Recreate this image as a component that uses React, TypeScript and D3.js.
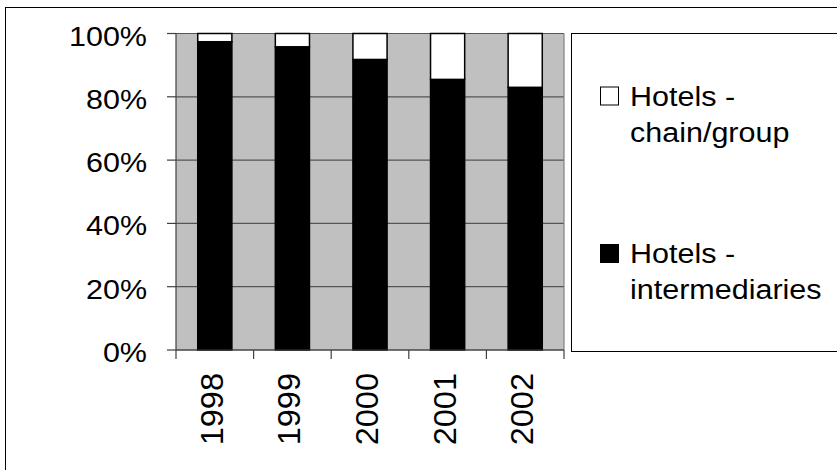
import React from "react";
import * as d3 from "d3";

const years = ["1998", "1999", "2000", "2001", "2002"];
const intermediaries = [97.4, 95.8, 91.8, 85.5, 83.0];
const chainGroup = [2.6, 4.2, 8.2, 14.5, 17.0];
const yTicks = [0, 20, 40, 60, 80, 100];
const seriesNames = ["Hotels - intermediaries", "Hotels - chain/group"];
const legendLines = [["Hotels -", "chain/group"], ["Hotels -", "intermediaries"]];

const W = 837;
const H = 470;
const plot = { left: 176, right: 564, top: 33.5, bottom: 350 };
const FONT = "'Liberation Sans', Arial, sans-serif";

export default function App() {
  const x = d3
    .scaleBand<string>()
    .domain(years)
    .range([plot.left, plot.right])
    .paddingInner(0.56)
    .paddingOuter(0.28);
  const y = d3.scaleLinear().domain([0, 100]).range([plot.bottom, plot.top]);

  const rows = years.map((yr, i) => ({
    year: yr,
    inter: intermediaries[i],
    chain: chainGroup[i],
  }));
  const stack = d3.stack<any>().keys(["inter", "chain"]);
  const layers = stack(rows);
  const fills = ["#000000", "#ffffff"];

  const step = x.step();
  const boundaries = d3.range(years.length + 1).map((i) => plot.left + i * step);

  return (
    <svg
      width={W}
      height={H}
      style={{ position: "absolute", left: 0, top: 0, background: "#fff" }}
    >
      {/* outer frame */}
      <rect x={5.5} y={7.5} width={900} height={500} fill="#fff" stroke="#000" strokeWidth={1} />

      {/* plot background */}
      <rect
        x={plot.left}
        y={plot.top}
        width={plot.right - plot.left}
        height={plot.bottom - plot.top}
        fill="#c0c0c0"
      />
      {/* gridlines */}
      {yTicks.map((t) => (
        <line
          key={"g" + t}
          x1={plot.left}
          x2={plot.right}
          y1={y(t)}
          y2={y(t)}
          stroke="#555"
          strokeWidth={1.2}
        />
      ))}
      {/* right border */}
      <line x1={plot.right} x2={plot.right} y1={plot.top} y2={plot.bottom} stroke="#808080" strokeWidth={1.2} />

      {/* bars */}
      {layers.map((layer, li) =>
        layer.map((d: any, i: number) => (
          <rect
            key={li + "-" + i}
            x={x(years[i])!}
            y={y(d[1])}
            width={x.bandwidth()}
            height={y(d[0]) - y(d[1])}
            fill={fills[li]}
            stroke="#000"
            strokeWidth={1.5}
          />
        ))
      )}

      {/* y axis */}
      <line x1={plot.left} x2={plot.left} y1={plot.top} y2={plot.bottom} stroke="#404040" strokeWidth={1.2} />
      {yTicks.map((t) => (
        <g key={"yt" + t}>
          <line x1={plot.left - 9} x2={plot.left} y1={y(t)} y2={y(t)} stroke="#404040" strokeWidth={1.2} />
          <text
            transform={`translate(147,${y(t) + 12}) scale(1.09,1)`}
            textAnchor="end"
            fontFamily={FONT}
            fontSize={28}
            fill="#000"
          >
            {t + "%"}
          </text>
        </g>
      ))}

      {/* x axis */}
      <line x1={plot.left} x2={plot.right} y1={plot.bottom} y2={plot.bottom} stroke="#404040" strokeWidth={1.2} />
      {boundaries.map((bx, i) => (
        <line key={"xt" + i} x1={bx} x2={bx} y1={plot.bottom} y2={plot.bottom + 9} stroke="#404040" strokeWidth={1.2} />
      ))}
      {years.map((yr) => {
        const cx = x(yr)! + x.bandwidth() / 2;
        return (
          <text
            key={"xl" + yr}
            transform={`translate(${cx + 8},373) rotate(-90) scale(1.05,1)`}
            textAnchor="end"
            fontFamily={FONT}
            fontSize={31}
            fill="#000"
          >
            {yr}
          </text>
        );
      })}

      {/* legend */}
      <rect x={571.5} y={33.5} width={400} height={318} fill="#fff" stroke="#000" strokeWidth={1} />
      {[
        { base: 105.5, fill: "#fff", lines: legendLines[0], name: seriesNames[1] },
        { base: 263, fill: "#000", lines: legendLines[1], name: seriesNames[0] },
      ].map((it, i) => (
        <g key={"lg" + i}>
          <rect x={600.5} y={it.base - 18.5} width={18} height={18} fill={it.fill} stroke="#000" strokeWidth={1} />
          {it.lines.map((ln, j) => (
            <text
              key={j}
              transform={`translate(630,${it.base + j * 36}) scale(1.09,1)`}
              fontFamily={FONT}
              fontSize={28}
              fill="#000"
            >
              {ln}
            </text>
          ))}
        </g>
      ))}
    </svg>
  );
}
